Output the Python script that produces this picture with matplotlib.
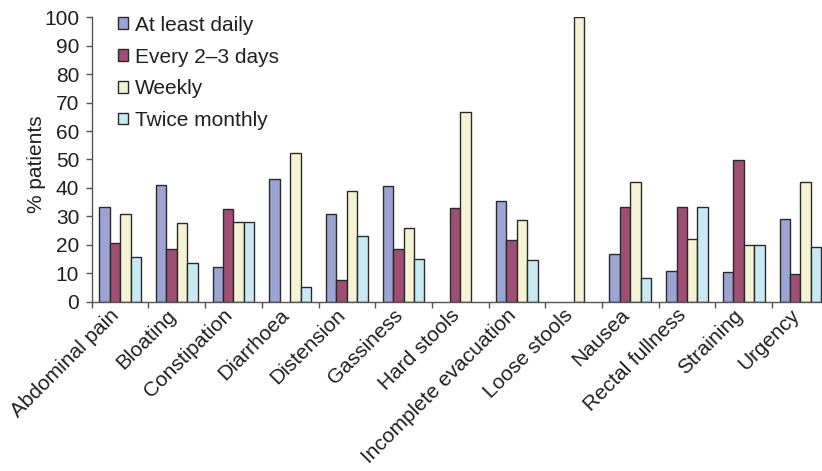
import numpy as np
import matplotlib.pyplot as plt

plt.rcParams['font.family'] = ['Liberation Sans', 'DejaVu Sans']

symptoms = ['Abdominal pain', 'Bloating', 'Constipation', 'Diarrhoea', 'Distension',
            'Gassiness', 'Hard stools', 'Incomplete evacuation', 'Loose stools',
            'Nausea', 'Rectal fullness', 'Straining', 'Urgency']

# % patients per frequency (nan = no bar)
daily = [33.4, 41.0, 12.1, 43.1, 30.7, 40.8, np.nan, 35.5, np.nan, 16.8, 10.8, 10.3, 29.2]
every_2_3 = [20.5, 18.5, 32.5, np.nan, 7.6, 18.4, 32.8, 21.7, np.nan, 33.4, 33.4, 49.9, 9.7]
weekly = [30.7, 27.6, 28.1, 52.2, 38.8, 25.9, 66.6, 28.6, 100.0, 42.0, 22.2, 20.0, 42.0]
twice_monthly = [15.8, 13.7, 28.1, 5.1, 23.2, 15.1, np.nan, 14.7, np.nan, 8.2, 33.4, 20.0, 19.3]

series = [('At least daily', daily, '#9ba4d2'),
          ('Every 2\u20133 days', every_2_3, '#a04f74'),
          ('Weekly', weekly, '#f4f3d3'),
          ('Twice monthly', twice_monthly, '#caeaf3')]

txt = '#231f20'
fs = 15
fig = plt.figure(figsize=(8.22, 4.71), dpi=100)
ax = fig.add_axes([0.1116, 0.3595, 0.8966, 0.6038])

x = np.arange(len(symptoms)) + 0.5
w = 0.184
for k, (name, vals, col) in enumerate(series):
    vals = np.array(vals, dtype=float)
    ok = ~np.isnan(vals)
    ax.bar(x[ok] + (k - 1.5) * w, vals[ok], width=w, color=col,
           edgecolor='#2a2a2a', linewidth=1.0, label=name)

ax.set_xlim(0, len(symptoms))
ax.set_ylim(0, 100)
ax.set_yticks(np.arange(0, 101, 10))
ax.set_xticks(np.arange(len(symptoms) + 1))
ax.set_xticklabels([])
ax.set_xticks(x, minor=True)
ax.set_xticklabels(symptoms, minor=True, rotation=45, ha='right', va='baseline',
                   rotation_mode='anchor', fontsize=fs, color=txt)
ax.tick_params(axis='x', which='minor', length=0, pad=10.5)
ax.tick_params(axis='x', which='major', length=4, width=1, color='#555555')
ax.tick_params(axis='y', length=4, width=1, color='#555555', labelsize=fs,
               labelcolor=txt, pad=5)

for s in ['top', 'right']:
    ax.spines[s].set_visible(False)
for s in ['left', 'bottom']:
    ax.spines[s].set_color('#555555')
    ax.spines[s].set_linewidth(1.0)

ax.set_ylabel('% patients', fontsize=fs, color=txt)
ax.yaxis.set_label_coords(-0.062, 0.482)

ax.legend(loc='upper left', bbox_to_anchor=(0.128, 0.993), bbox_transform=fig.transFigure,
          frameon=False, fontsize=fs, handlelength=0.5, handleheight=0.5,
          handletextpad=0.32, labelspacing=0.61, borderaxespad=0.2, labelcolor=txt)

fig.savefig('out.png', dpi=100)
